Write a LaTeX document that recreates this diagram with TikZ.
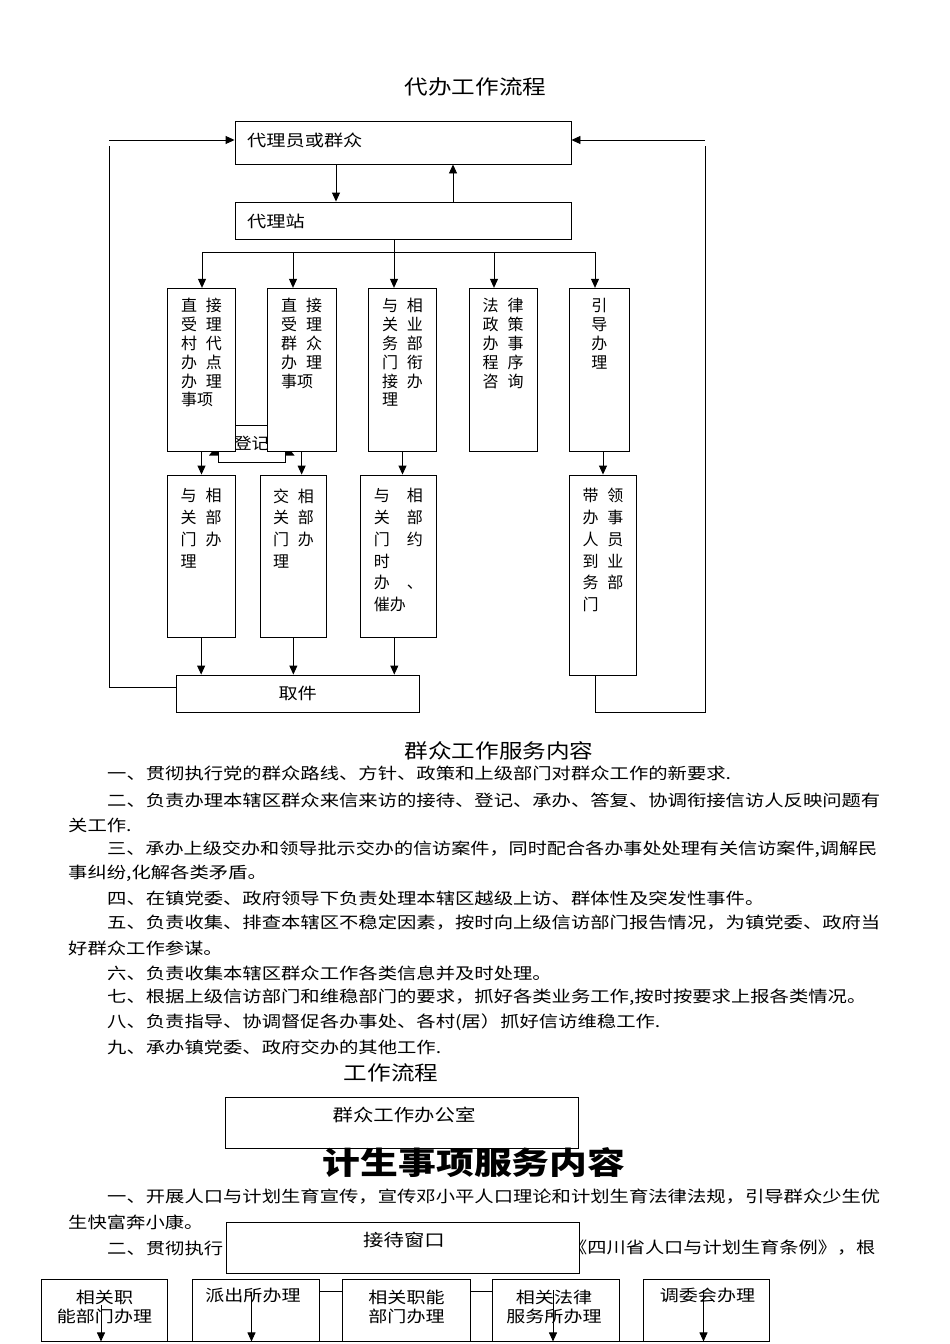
\documentclass[tikz,border=0pt]{standalone}
\usepackage{fontspec}
\setmainfont{Noto Sans CJK SC}
\usetikzlibrary{arrows.meta,fit}
\newcommand\sx[2]{\scalebox{#1}[1]{#2}}
\newcommand\pl[1]{\scalebox{1.208}[1]{#1}}
\newcommand\duo[3][25]{\makebox[#1pt][l]{#2}#3}
\tikzset{
 box/.style={draw, fill=white, line width=0.9pt, inner sep=0pt, rectangle},
 arr/.style={line width=0.9pt, -{Triangle[length=9pt,width=8pt]}},
 ln/.style={line width=0.9pt},
 txt/.style={inner sep=0pt, font=\fontsize{16}{19}\selectfont},
 ttl/.style={inner sep=0pt, font=\fontsize{20}{24}\selectfont},
 vtc/.style={inner sep=0pt, align=left, anchor=north, font=\fontsize{16}{18.8}\selectfont},
 vtd/.style={inner sep=0pt, align=left, anchor=north, font=\fontsize{16}{21.7}\selectfont},
 btx/.style={inner sep=0pt, align=center, anchor=north, font=\fontsize{16}{19}\selectfont},
}
\begin{document}
\begin{tikzpicture}[x=1pt,y=-1pt]
\useasboundingbox (0,0) rectangle (950,1344);
\fill[white] (0,0) rectangle (950,1344);

% ---------- part 1: flow chart ----------
\node[ttl] (t1) at (475.5,87) {\sx{1.18}{代办工作流程}};

\node[box,fit={(235,121)(571,164)}] (a) {};
\node[box,fit={(235,202)(571,239)}] (b) {};
\node[txt,anchor=west] (at) at (247,140) {\sx{1.2}{代理员或群众}};
\node[txt,anchor=west] (bt) at (247,221) {\sx{1.2}{代理站}};

\coordinate (xab) at (336,0);
\coordinate (xba) at (453,0);
\draw[arr] (a.south -| xab) -- (b.north -| xab);
\draw[arr] (b.north -| xba) -- (a.south -| xba);

% register box behind
\node[box,fit={(218.3,425.7)(285,462.7)}] (dj) {};
\node[txt] (djt) at (251.6,443) {\sx{1.1}{登记}};

% row 1
\node[box,fit={(167.3,288.3)(235.7,451.7)}] (c1) {};
\node[box,fit={(267.3,288.3)(336,451.7)}] (c2) {};
\node[box,fit={(368.3,288.3)(436.7,451.7)}] (c3) {};
\node[box,fit={(469,288.3)(537.3,451.7)}] (c4) {};
\node[box,fit={(569.3,288.3)(629.3,451.7)}] (c5) {};

\fill (209,455.5) -- (212,451.7) -- (218.3,451.7) -- (218.3,455.5) -- cycle;
\fill (294.5,455.5) -- (291.5,451.7) -- (285,451.7) -- (285,455.5) -- cycle;

\node[vtc] (c1t) at (201.5,298.3) {\duo{直}{接}\\\duo{受}{理}\\\duo{村}{代}\\\duo{办}{点}\\\duo{办}{理}\\事项};
\node[vtc] (c2t) at (301.7,298.3) {\duo{直}{接}\\\duo{受}{理}\\\duo{群}{众}\\\duo{办}{理}\\事项};
\node[vtc] (c3t) at (402.5,298.3) {\duo{与}{相}\\\duo{关}{业}\\\duo{务}{部}\\\duo{门}{衔}\\\duo{接}{办}\\理};
\node[vtc] (c4t) at (503.2,298.3) {\duo{法}{律}\\\duo{政}{策}\\\duo{办}{事}\\\duo{程}{序}\\\duo{咨}{询}};
\node[vtc] (c5t) at (599.3,298.3) {引\\导\\办\\理};

\coordinate (k1) at (202,252);
\coordinate (k2) at (293,252);
\coordinate (k3) at (394,252);
\coordinate (k4) at (494,252);
\coordinate (k5) at (595,252);
\draw[ln] (b.south -| k3) -- (k3);
\draw[ln] (k1) -- (k5);
\draw[arr] (k1) -- (k1 |- c1.north);
\draw[arr] (k2) -- (k2 |- c2.north);
\draw[arr] (k3) -- (k3 |- c3.north);
\draw[arr] (k4) -- (k4 |- c4.north);
\draw[arr] (k5) -- (k5 |- c5.north);

% row 2
\node[box,fit={(167.3,475)(235,637.3)}] (d1) {};
\node[box,fit={(260,475)(326.7,637.3)}] (d2) {};
\node[box,fit={(360.7,475)(436,637.3)}] (d3) {};
\node[box,fit={(569.3,475)(636.7,675)}] (d5) {};

\node[vtd] (d1t) at (201.2,488.3) {\duo{与}{相}\\\duo{关}{部}\\\duo{门}{办}\\理};
\node[vtd] (d2t) at (293.5,488.3) {\duo{交}{相}\\\duo{关}{部}\\\duo{门}{办}\\理};
\node[vtd] (d3t) at (398.3,488.3) {\duo[33]{与}{相}\\\duo[33]{关}{部}\\\duo[33]{门}{约}\\时\\\duo[33]{办}{、}\\催办};
\node[vtd] (d5t) at (603,488.3) {\duo{带}{领}\\\duo{办}{事}\\\duo{人}{员}\\\duo{到}{业}\\\duo{务}{部}\\门};

\draw[arr] (c1.south) -- (c1.south |- d1.north);
\draw[arr] (c2.south) -- (c2.south |- d2.north);
\draw[arr] (c3.south) -- (c3.south |- d3.north);
\draw[arr] (d5.north |- c5.south) -- (d5.north);

% collect
\node[box,fit={(176,675)(419.3,712)}] (q) {};
\node[txt] (qt) at (297.7,693.3) {\sx{1.2}{取件}};
\coordinate (x3) at (394.3,0);
\draw[arr] (d1.south) -- (d1.south |- q.north);
\draw[arr] (d2.south) -- (d2.south |- q.north);
\draw[arr] (d3.south -| x3) -- (q.north -| x3);

% loops
\coordinate (ll) at (109,687);
\coordinate (lt) at (109,146);
\coordinate (la) at (109,140);
\draw[ln] (q.west |- ll) -- (ll) -- (lt);
\draw[arr] (la) -- (la -| a.west);
\coordinate (rx) at (595,0);
\coordinate (rb) at (705,712);
\coordinate (rt) at (705,146);
\coordinate (ra) at (705,140);
\draw[ln] (d5.south -| rx) -- (rx |- rb) -- (rb) -- (rt);
\draw[arr] (ra) -- (ra -| a.east);

% ---------- part 2: text ----------
\node[ttl] (t2) at (499,751) {\sx{1.18}{群众工作服务内容}};
\node[txt,anchor=west] (p1) at (107,773) {\pl{一、贯彻执行党的群众路线、方针、政策和上级部门对群众工作的新要求.}};
\node[txt,anchor=west] (p2) at (107,800) {\pl{二、负责办理本辖区群众来信来访的接待、登记、承办、答复、协调衔接信访人反映问题有}};
\node[txt,anchor=west] (p3) at (68,825) {\pl{关工作.}};
\node[txt,anchor=west] (p4) at (107,849) {\sx{1.195}{三、承办上级交办和领导批示交办的信访案件，同时配合各办事处处理有关信访案件,调解民}};
\node[txt,anchor=west] (p5) at (68,873) {\pl{事纠纷,化解各类矛盾。}};
\node[txt,anchor=west] (p6) at (107,898) {\pl{四、在镇党委、政府领导下负责处理本辖区越级上访、群体性及突发性事件。}};
\node[txt,anchor=west] (p7) at (107,923) {\pl{五、负责收集、排查本辖区不稳定因素，按时向上级信访部门报告情况，为镇党委、政府当}};
\node[txt,anchor=west] (p8) at (68,948) {\pl{好群众工作参谋。}};
\node[txt,anchor=west] (p9) at (107,973) {\pl{六、负责收集本辖区群众工作各类信息并及时处理。}};
\node[txt,anchor=west] (p10) at (107,997) {\pl{七、根据上级信访部门和维稳部门的要求，抓好各类业务工作,按时按要求上报各类情况。}};
\node[txt,anchor=west] (p11) at (107,1022) {\pl{八、负责指导、协调督促各办事处、各村(居）抓好信访维稳工作.}};
\node[txt,anchor=west] (p12) at (107,1047) {\pl{九、承办镇党委、政府交办的其他工作.}};

% ---------- part 3 ----------
\node[ttl] (t3) at (391,1073) {\sx{1.18}{工作流程}};
\node[box,fit={(225,1097.7)(578,1148.3)}] (g) {};
\node[txt] (gt) at (404,1115) {\sx{1.2}{\fontsize{17}{20}\selectfont 群众工作办公室}};
\node[inner sep=0pt, font=\fontsize{31}{36}\selectfont\bfseries] (t4) at (474,1163) {\sx{1.22}{计生事项服务内容}};
\node[txt,anchor=west] (s1) at (107,1197) {\pl{一、开展人口与计划生育宣传，宣传邓小平人口理论和计划生育法律法规，引导群众少生优}};
\node[txt,anchor=west] (s2) at (68,1222) {\pl{生快富奔小康。}};
\node[txt,anchor=west] (s3) at (107,1248) {\pl{二、贯彻执行}};
\node[txt,anchor=west] (s4) at (568,1248) {\sx{1.2}{《四川省人口与计划生育条例》，根}};
\node[box,fit={(226,1222)(579,1273)}] (w) {};
\node[txt] (wt) at (404,1240) {\sx{1.2}{\fontsize{17}{20}\selectfont 接待窗口}};

\node[box,fit={(41.2,1279)(167.8,1341)}] (bb1) {};
\node[box,fit={(192.5,1279)(319,1341)}] (bb2) {};
\node[box,fit={(342,1279)(470,1341)}] (bb3) {};
\node[box,fit={(492.7,1279)(619.4,1341)}] (bb4) {};
\node[box,fit={(643.4,1279)(769.5,1341)}] (bb5) {};
\draw[ln] (bb1.south west) -- (bb5.south east);
\coordinate (hy) at (0,1291);
\draw[ln] (bb2.east |- hy) -- (bb3.west |- hy);
\draw[ln] (bb3.east |- hy) -- (bb4.west |- hy);

\node[btx] (bt1) at (104.5,1289.5) {\sx{1.19}{相关职}\\\sx{1.19}{能部门办理}};
\node[btx] (bt2) at (253,1287.5) {\sx{1.19}{派出所办理}};
\node[btx] (bt3) at (406.5,1289.5) {\sx{1.19}{相关职能}\\\sx{1.19}{部门办理}};
\node[btx] (bt4) at (554,1289.5) {\sx{1.19}{相关法律}\\\sx{1.19}{服务所办理}};
\node[btx] (bt5) at (707.5,1287.5) {\sx{1.19}{调委会办理}};

\coordinate (q1) at (101,1305);
\coordinate (q2) at (251.5,1292);
\coordinate (q4) at (553,1290);
\coordinate (q5) at (703.5,1290);
\draw[arr] (q1) -- (q1 |- bb1.south);
\draw[arr] (q2) -- (q2 |- bb2.south);
\draw[arr] (q4) -- (q4 |- bb4.south);
\draw[arr] (q5) -- (q5 |- bb5.south);
\end{tikzpicture}
\end{document}
